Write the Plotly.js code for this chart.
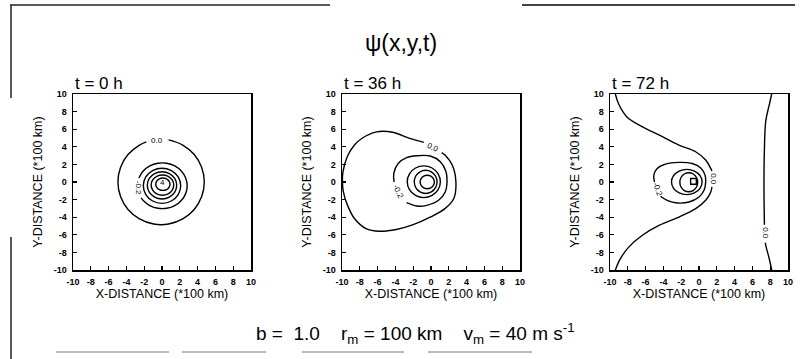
<!DOCTYPE html>
<html>
<head>
<meta charset="utf-8">
<script src="https://cdn.plot.ly/plotly-3.0.1.min.js"></script>
<style>html,body{margin:0;padding:0;background:#fff;}#chart{width:802px;height:359px;}</style>
</head>
<body>
<div id="chart"></div>
<script>
// ---------- data ----------
const tickVals = [-10, -8, -6, -4, -2, 0, 2, 4, 6, 8, 10];
const tickText = ['-10', '-8', '-6', '-4', '-2', '0', '2', '4', '6', '8', '10'];
const panelTitles = ['t = 0 h', 't = 36 h', 't = 72 h'];
const mainTitle = 'ψ(x,y,t)';
const bottomNote = 'b = &nbsp;1.0 &nbsp;&nbsp; r<sub>m</sub> = 100 km &nbsp;&nbsp; v<sub>m</sub> = 40 m s<sup>-1</sup>';
const xTitle = 'X-DISTANCE (*100 km)';
const yTitle = 'Y-DISTANCE (*100 km)';

// t = 0 h contours
const t0_c0_x = [0.74, 2.33, 3.62, 4.46, 4.75, 4.46, 3.62, 2.33, 0.74, -0.94, -2.53, -3.82, -4.66, -4.95, -4.66, -3.82, -2.53, -1.76];
const t0_c0_y = [4.78, 4.20, 3.12, 1.66, 0, -1.66, -3.12, -4.20, -4.78, -4.78, -4.20, -3.12, -1.66, 0, 1.66, 3.12, 4.20, 4.56];
const t0_c1_x = [-2.60, -2.11, -1.37, -0.46, 0.52, 1.43, 2.17, 2.66, 2.83, 2.66, 2.17, 1.43, 0.52, -0.46, -1.37, -2.11, -2.34];
const t0_c1_y = [0.46, 1.24, 1.82, 2.13, 2.13, 1.82, 1.24, 0.46, -0.43, -1.32, -2.10, -2.68, -2.99, -2.99, -2.68, -2.10, -1.81];
const t0_c2_x = [2.10, 1.82, 1.05, 0, -1.05, -1.82, -2.10, -1.82, -1.05, 0, 1.05, 1.82, 2.10];
const t0_c2_y = [-0.43, 0.57, 1.30, 1.57, 1.30, 0.57, -0.43, -1.43, -2.16, -2.43, -2.16, -1.43, -0.43];
const t0_c3_x = [1.65, 1.43, 0.83, 0, -0.83, -1.43, -1.65, -1.43, -0.83, 0, 0.83, 1.43, 1.65];
const t0_c3_y = [-0.38, 0.40, 0.96, 1.17, 0.96, 0.40, -0.38, -1.16, -1.72, -1.93, -1.72, -1.16, -0.38];
const t0_c4_x = [1.32, 1.15, 0.69, 0.05, -0.59, -1.05, -1.22, -1.05, -0.59, 0.05, 0.69, 1.15, 1.32];
const t0_c4_y = [-0.35, 0.23, 0.65, 0.80, 0.65, 0.23, -0.35, -0.93, -1.35, -1.50, -1.35, -0.93, -0.35];
const t0_c5_x = [0.90, 0.79, 0.50, 0.10, -0.30, -0.59, -0.70, -0.59, -0.30, 0.10, 0.50, 0.79, 0.90];
const t0_c5_y = [-0.25, 0.10, 0.36, 0.45, 0.36, 0.10, -0.25, -0.60, -0.86, -0.95, -0.86, -0.60, -0.25];
const t0_labels = ['0.0', '-0.2', '4'];
const t0_label_x = [-0.55, -2.65, 0.08];
const t0_label_y = [4.75, -0.7, -0.1];

// t = 36 h contours
const t36_c0_x = [1.2, 1.6, 2.4, 2.8, 2.55, 1.6, -0.1, -2.0, -3.9, -5.8, -7.3, -8.6, -9.4, -9.85, -9.95, -9.9, -9.4, -8.6, -7.7, -6.1, -4.3, -2.4, -0.8];
const t36_c0_y = [3.35, 3.05, 1.9, 0, -1.9, -3.0, -4.0, -4.85, -5.4, -5.6, -5.3, -4.15, -2.6, -1.1, 0, 1.1, 2.9, 4.2, 5.0, 5.7, 5.65, 4.95, 4.5];
const t36_c1_x = [-4.15, -4.18, -3.69, -2.74, -1.6, -0.09, 1.05, 1.69, 1.8, 1.6, 0.85, -0.47, -1.6, -2.74];
const t36_c1_y = [0.0, 0.97, 2.1, 2.76, 2.98, 2.95, 2.3, 1.16, 0, -1.13, -2.08, -2.65, -2.73, -2.35];
const t36_c2_x = [1.05, 0.80, 0.12, -0.81, -1.74, -2.42, -2.67, -2.42, -1.74, -0.81, 0.12, 0.80, 1.05];
const t36_c2_y = [0.03, 0.93, 1.59, 1.83, 1.59, 0.93, 0.03, -0.87, -1.53, -1.77, -1.53, -0.87, 0.03];
const t36_c3_x = [0.68, 0.51, 0.04, -0.6, -1.24, -1.71, -1.88, -1.71, -1.24, -0.6, 0.04, 0.51, 0.68];
const t36_c3_y = [0.02, 0.68, 1.16, 1.34, 1.16, 0.68, 0.02, -0.64, -1.12, -1.30, -1.12, -0.64, 0.02];
const t36_c4_x = [0.38, 0.27, -0.02, -0.42, -0.82, -1.11, -1.22, -1.11, -0.82, -0.42, -0.02, 0.27, 0.38];
const t36_c4_y = [0, 0.39, 0.67, 0.77, 0.67, 0.39, 0, -0.39, -0.67, -0.77, -0.67, -0.39, 0];
const t36_labels = ['0.0', '-0.2'];
const t36_label_x = [0.2, -3.7];
const t36_label_y = [3.95, -1.1];

// t = 72 h contours
const t72_c0a_x = [-9.4, -9.0, -8.1, -6.4, -4.5, -2.26, -0.38, 0.75, 1.32, 1.45];
const t72_c0a_y = [10, 8.8, 7.4, 6.3, 5.35, 4.2, 3.44, 2.5, 1.54, 1.25];
const t72_c0b_x = [1.45, 1.32, 0.75, -0.37, -2.26, -4.5, -6.4, -7.9, -8.85, -9.4];
const t72_c0b_y = [-0.55, -1.13, -2.08, -3.03, -3.98, -4.94, -6.08, -7.4, -8.74, -10];
const t72_c0c_x = [8.17, 7.9, 7.5, 7.35, 7.3, 7.35];
const t72_c0c_y = [10, 8.8, 6.9, 3.7, -0.3, -4.85];
const t72_c0d_x = [7.45, 7.5, 7.9, 8.17];
const t72_c0d_y = [-6.9, -7.2, -8.75, -10];
const t72_c1_x = [-5.0, -5.08, -4.7, -3.77, -2.26, -0.75, 0.19, 0.68, 0.75, 0.57, 0, -1.13, -2.45, -3.58, -4.33];
const t72_c1_y = [0.0, 0.78, 1.54, 2.03, 2.23, 2.1, 1.6, 0.78, 0, -0.94, -1.7, -2.27, -2.38, -2.08, -1.62];
const t72_c2_x = [0.35, 0.12, -0.51, -1.37, -2.23, -2.86, -3.09, -2.86, -2.23, -1.37, -0.51, 0.12, 0.35];
const t72_c2_y = [0, 0.72, 1.24, 1.43, 1.24, 0.72, 0, -0.72, -1.24, -1.43, -1.24, -0.72, 0];
const t72_c3_x = [-0.15, -0.28, -0.65, -1.15, -1.65, -2.02, -2.15, -2.02, -1.65, -1.15, -0.65, -0.28, -0.15];
const t72_c3_y = [-0.03, 0.51, 0.91, 1.05, 0.91, 0.51, -0.03, -0.57, -0.97, -1.11, -0.97, -0.57, -0.03];
const t72_c4_x = [-0.3, -0.94, -0.94, -0.3, -0.3];
const t72_c4_y = [0.4, 0.4, -0.25, -0.25, 0.4];
const t72_labels = ['0.0', '-0.2', '0.0'];
const t72_label_x = [1.55, -4.6, 7.45];
const t72_label_y = [0.35, -0.8, -5.85];

// ---------- build ----------
const W = 802, H = 359;
const panelLeft = [73, 342, 610], panelWidth = 178;
const plotTop = 94, plotBottom = 270;
const yDom = [(H - plotBottom) / H, (H - plotTop) / H];

const panels = [
  {curves: [[t0_c0_x, t0_c0_y], [t0_c1_x, t0_c1_y], [t0_c2_x, t0_c2_y], [t0_c3_x, t0_c3_y], [t0_c4_x, t0_c4_y], [t0_c5_x, t0_c5_y]],
   labels: [t0_labels, t0_label_x, t0_label_y], angles: [0, 90, 0]},
  {curves: [[t36_c0_x, t36_c0_y], [t36_c1_x, t36_c1_y], [t36_c2_x, t36_c2_y], [t36_c3_x, t36_c3_y], [t36_c4_x, t36_c4_y]],
   labels: [t36_labels, t36_label_x, t36_label_y], angles: [25, 65]},
  {curves: [[t72_c0a_x, t72_c0a_y], [t72_c0b_x, t72_c0b_y], [t72_c0c_x, t72_c0c_y], [t72_c0d_x, t72_c0d_y], [t72_c1_x, t72_c1_y], [t72_c2_x, t72_c2_y], [t72_c3_x, t72_c3_y], [t72_c4_x, t72_c4_y, 'linear']],
   labels: [t72_labels, t72_label_x, t72_label_y], angles: [90, 70, 90]}
];

const traces = [];
const annotations = [];
const layout = {
  width: W, height: H, autosize: false,
  margin: {l: 0, r: 0, t: 0, b: 0},
  paper_bgcolor: '#fff', plot_bgcolor: '#fff',
  showlegend: false,
  font: {family: 'Liberation Sans, Arial, sans-serif', color: '#000'},
  title: {text: mainTitle, x: 0.5, xanchor: 'center', y: 1 - 43 / H, yanchor: 'middle',
          font: {size: 23, family: 'Liberation Sans, Arial, sans-serif', color: '#000'}},
  shapes: [],
  annotations: annotations
};

panels.forEach((p, i) => {
  const sfx = i === 0 ? '' : String(i + 1);
  const xa = 'x' + sfx, ya = 'y' + sfx;
  p.curves.forEach(c => {
    traces.push({
      type: 'scatter', mode: 'lines', x: c[0], y: c[1], xaxis: xa, yaxis: ya,
      line: {color: '#000', width: 1.4, shape: c[2] || 'spline', smoothing: 1},
      hoverinfo: 'skip'
    });
  });
  const [txt, lx, ly] = p.labels;
  txt.forEach((t, k) => {
    annotations.push({text: t, x: lx[k], y: ly[k], xref: xa, yref: ya, showarrow: false,
      textangle: p.angles[k], font: {size: 8, color: '#000'}, xanchor: 'center', yanchor: 'middle'});
  });
  const axCommon = {
    range: [-10, 10], tickmode: 'array', tickvals: tickVals, ticktext: tickText,
    ticks: 'inside', ticklen: 4, tickwidth: 1.2, tickcolor: '#000',
    showline: true, linecolor: '#000', linewidth: 1.5, mirror: true,
    showgrid: false, zeroline: false, fixedrange: true,
    tickfont: {size: 9, color: '#000', weight: 'bold', family: 'Liberation Sans, Arial, sans-serif'}
  };
  layout['xaxis' + sfx] = Object.assign({}, axCommon, {
    domain: [panelLeft[i] / W, (panelLeft[i] + panelWidth) / W], anchor: ya,
    ticklabelstandoff: 3,
    title: {text: xTitle, standoff: 1, font: {size: 12.5, color: '#000'}}
  });
  layout['yaxis' + sfx] = Object.assign({}, axCommon, {
    domain: yDom, anchor: xa, ticklabelstandoff: 3,
    title: {text: yTitle, standoff: 8, font: {size: 12.5, color: '#000'}}
  });
  annotations.push({text: panelTitles[i], xref: 'paper', yref: 'paper',
    x: panelLeft[i] / W, y: yDom[1], xanchor: 'left', yanchor: 'bottom', yshift: -1,
    showarrow: false, font: {size: 17, color: '#000'}});
});

annotations.push({text: bottomNote, xref: 'paper', yref: 'paper', x: 415 / W, y: 1 - 333 / H,
  xanchor: 'center', yanchor: 'middle', showarrow: false, font: {size: 19, color: '#000'}});

// scanned-page frame fragments
const frame = [
  [10, 5, 330, 5, '#222', 1.5], [522, 5, 795, 5, '#444', 2],
  [11, 5, 11, 98, '#222', 1.5], [11, 237, 11, 359, '#222', 1.5],
  [56, 352, 169, 352, '#bbb', 2], [182, 352, 266, 352, '#bbb', 2],
  [302, 352, 404, 352, '#bbb', 2], [428, 352, 532, 352, '#bbb', 2]
];
frame.forEach(f => layout.shapes.push({type: 'line', xref: 'paper', yref: 'paper',
  x0: f[0] / W, y0: 1 - f[1] / H, x1: f[2] / W, y1: 1 - f[3] / H, line: {color: f[4], width: f[5]}}));

Plotly.newPlot('chart', traces, layout, {staticPlot: true, displayModeBar: false});
</script>
</body>
</html>
